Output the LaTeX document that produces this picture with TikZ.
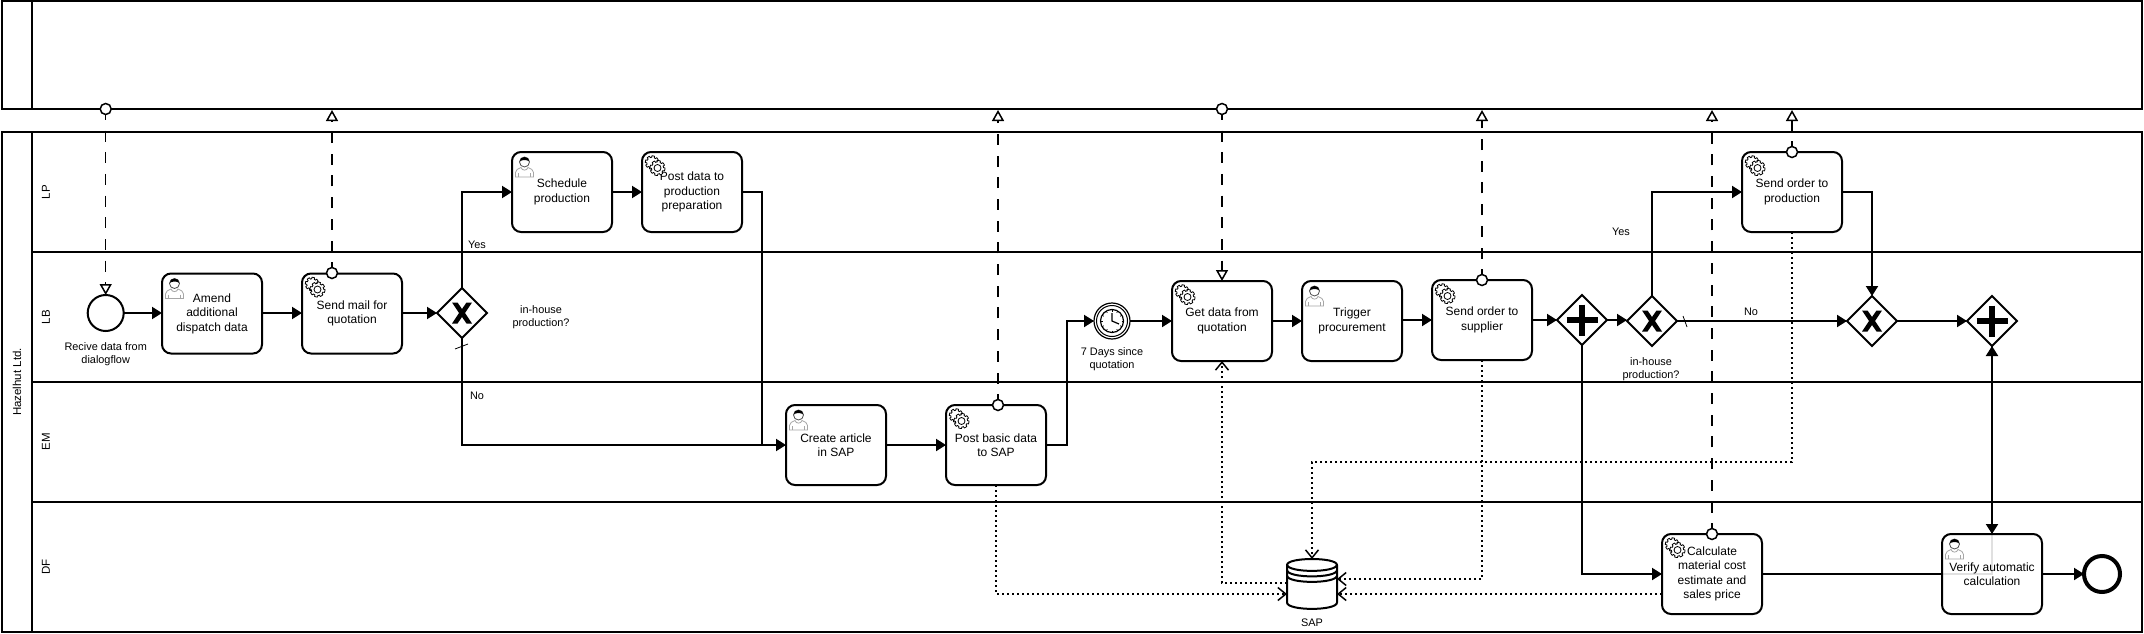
\documentclass[tikz,border=0pt]{standalone}
\usepackage{fontspec}
\setmainfont{Liberation Sans}
\usetikzlibrary{arrows.meta,shapes.geometric}

\tikzset{
	task/.style={draw,line width=2pt,rounded corners=9pt,fill=white,minimum width=100pt,minimum height=80pt,inner sep=1pt,outer sep=0pt,align=center,font=\fontsize{12}{14.5}\selectfont,execute at begin node={\rule{0pt}{11pt}}},
	gate/.style={draw,diamond,line width=2pt,fill=white,minimum width=50pt,minimum height=50pt,inner sep=0pt,outer sep=0pt},
	event/.style={draw,circle,line width=2pt,fill=white,minimum size=36pt,inner sep=0pt,outer sep=0pt},
	msgdot/.style={draw,circle,line width=1.5pt,fill=white,minimum size=11pt,inner sep=0pt,outer sep=0pt},
	label/.style={align=center,inner sep=0pt,font=\fontsize{10.9}{13}\selectfont},
	lanelabel/.style={rotate=90,inner sep=0pt,font=\fontsize{11.5}{13}\selectfont},
	lane/.style={line width=2pt},
	flow/.style={line width=2pt,-{Triangle[length=10pt,width=12pt]}},
	plainflow/.style={line width=2pt},
	msgflow/.style={line width=1.5pt,dash pattern=on 11pt off 10.7pt,dash phase=5.7pt,-{Triangle[length=11pt,width=12pt,fill=white,line width=1.5pt]}},
	dataflow/.style={line width=1.5pt,dash pattern=on 2pt off 3pt,-{Straight Barb[length=8pt,width=13pt,line width=1.5pt]}},
	%task markers, drawn from the top left corner of the task
	pics/usermark/.style={code={
		\draw[gray!70,line width=.8pt,fill=white] (3.5,25) -- (3.5,20.5) .. controls (3.5,17.5) and (6,17) .. (9,15.5) .. controls (10,19) and (15,19) .. (16,15.5) .. controls (19,17) and (21.5,17.5) .. (21.5,20.5) -- (21.5,25) -- cycle;
		\draw[gray!70,line width=.8pt] (6.5,21) -- (6.5,25) (18.5,21) -- (18.5,25);
		\draw[black!70,line width=.8pt,fill=white] (12.5,10) circle (5pt);
		\fill (7.7,9.5) .. controls (8,3.5) and (17,3.5) .. (17.3,9.5) .. controls (15,7.5) and (10,7.5) .. cycle;
	}},
	pics/servicemark/.style={code={
		\foreach \cx/\cy/\rr in {10/10.5/6.7,15.5/16/7.5}
			\draw[line width=.8pt,fill=white] plot[domain=0:360,samples=97] ({\cx+(\rr-1.5*(sin(8*\x)<0))*cos(\x)},{\cy+(\rr-1.5*(sin(8*\x)<0))*sin(\x)}) -- cycle;
		\draw[line width=.8pt] (15.5,16) circle (3.5pt);
	}},
	pics/xormark/.style={code={
		\fill (-10,-10.5) -- (-4.5,-10.5) -- (0,-4) -- (4.5,-10.5) -- (10,-10.5) -- (3,0) -- (10,10.5) -- (4.5,10.5) -- (0,4) -- (-4.5,10.5) -- (-10,10.5) -- (-3,0) -- cycle;
	}},
	pics/andmark/.style={code={
		\draw[line width=5.5pt] (-15.5,0) -- (15.5,0) (0,-15.5) -- (0,15.5);
	}},
}

\begin{document}
\begin{tikzpicture}[x=1pt,y=-1pt]
	\useasboundingbox (0,0) rectangle (2144,634);

	%pools and lanes
	\draw[lane] (2,1) rectangle (2142,109);
	\draw[lane] (32,1) -- (32,109);
	\draw[lane] (2,132) rectangle (2142,632);
	\draw[lane] (32,132) -- (32,632);
	\draw[lane] (32,252) -- (2142,252);
	\draw[lane] (32,382) -- (2142,382);
	\draw[lane] (32,502) -- (2142,502);

	\node[lanelabel] (pool) at (17,382) {Hazelhut Ltd.};
	\node[lanelabel] (lanelp) at (46,192) {LP};
	\node[lanelabel] (lanelb) at (46,317) {LB};
	\node[lanelabel] (laneem) at (46,442) {EM};
	\node[lanelabel] (lanedf) at (46,567) {DF};

	%events
	\node[event] (recive) at (105.7,313) {};
	\node[event,line width=1.2pt] (timer) at (1112,321) {};
	\node[event,line width=4pt,minimum size=36pt] (stop) at (2102,574) {};

	%timer marks
	\draw[line width=1pt] (timer) circle (15.5pt);
	\draw[line width=1.2pt] (timer) circle (11.5pt);
	\foreach \a in {0,30,...,330}
		\draw[line width=.7pt] (timer) ++(\a:9.5pt) -- ++(\a:2pt);
	\draw[line width=1.2pt] (1112,313) -- (timer.center) -- (1119,324);

	%tasks
	\node[task] (amend) at (212,313.5) {Amend\\additional\\dispatch data};
	\node[task] (mail) at (352,313.5) {Send mail for\\quotation};
	\node[task] (schedule) at (562,192) {Schedule\\production};
	\node[task] (postprep) at (692,192) {Post data to\\production\\preparation};
	\node[task] (create) at (836,445) {Create article\\in SAP};
	\node[task] (postbasic) at (996,445) {Post basic data\\to SAP};
	\node[task] (getdata) at (1222,321) {Get data from\\quotation};
	\node[task] (trigger) at (1352,321) {Trigger\\procurement};
	\node[task] (supplier) at (1482,320) {Send order to\\supplier};
	\node[task] (sendprod) at (1792,192) {Send order to\\production};
	\node[task] (calc) at (1712,574) {Calculate\\material cost\\estimate and\\sales price};

	%gateways
	\node[gate] (xorone) at (462,313) {};
	\node[gate] (andone) at (1582,320) {};
	\node[gate] (xortwo) at (1652,321) {};
	\node[gate] (xorthree) at (1872,321) {};
	\node[gate] (andtwo) at (1992,321) {};
	\pic at (xorone) {xormark};
	\pic at (xortwo) {xormark};
	\pic at (xorthree) {xormark};
	\pic at (andone) {andmark};
	\pic at (andtwo) {andmark};

	%sequence flows
	\coordinate (mergein) at (762,445);
	\coordinate (timerin) at (1067,321);
	\draw[flow] (recive.east) -- (amend.west |- recive);
	\draw[flow] (amend.east |- recive) -- (mail.west |- recive);
	\draw[flow] (mail.east |- recive) -- (xorone.west);
	\draw[flow] (xorone.north) |- (schedule.west);
	\draw[flow] (xorone.south) |- (create.west);
	\draw[flow] (schedule) -- (postprep);
	\draw[plainflow] (postprep.east) -| (mergein);
	\draw[flow] (create) -- (postbasic);
	\draw[flow] (postbasic.east) -| (timerin) -- (timer.west);
	\draw[flow] (timer) -- (getdata);
	\draw[flow] (getdata) -- (trigger);
	\draw[flow] (trigger.east |- supplier) -- (supplier);
	\draw[flow] (supplier) -- (andone);
	\draw[flow] (andone) -- (xortwo.west |- andone);
	\draw[flow] (andone.south) |- (calc.west);
	\draw[flow] (xortwo.north) |- (sendprod.west);
	\draw[flow] (sendprod.east) -| (xorthree.north);
	\draw[flow] (xortwo) -- (xorthree);
	\draw[flow] (xorthree) -- (andtwo);
	\draw[flow] (calc.east) -| (andtwo.south);

	%task on top of its flow
	\node[task,fill opacity=.88,text opacity=1] (verify) at (1992,574) {Verify automatic\\calculation};
	\draw[flow] (andtwo.south) -- (verify.north);
	\draw[flow] (verify) -- (stop);

	%crossbars on default flows
	\draw[line width=.8pt] (455,349) -- (468,344);
	\draw[line width=.8pt] (1683,316) -- (1687,327);

	%data store
	\node[minimum width=50pt,minimum height=50pt,inner sep=0pt,outer sep=0pt] (sap) at (1312,584) {};
	\draw[line width=2pt,fill=white] (1287,565) -- (1287,602.5) .. controls (1287,611) and (1337,611) .. (1337,602.5) -- (1337,565) .. controls (1337,557) and (1287,557) .. cycle;
	\draw[line width=2pt] (1287,564.5) .. controls (1287,573) and (1337,573) .. (1337,564.5);
	\draw[line width=2pt] (1287,570) .. controls (1287,578.5) and (1337,578.5) .. (1337,570);
	\draw[line width=2pt] (1287,575.5) .. controls (1287,584) and (1337,584) .. (1337,575.5);
	\node[label] (saplabel) at (1312,623) {SAP};

	%data flows
	\coordinate (sapleftlow) at (1287,594);
	\coordinate (saprightlow) at (1337,594);
	\coordinate (sapleftup) at (1287,583);
	\coordinate (saprightup) at (1337,579);
	\coordinate (saptop) at (1312,559);
	\coordinate (sapbend) at (1792,462);
	\draw[dataflow] (postbasic.south) |- (sapleftlow);
	\draw[dataflow] (sapleftup) -| (getdata.south);
	\draw[dataflow] (supplier.south) |- (saprightup);
	\draw[dataflow] (calc.west |- saprightlow) -- (saprightlow);
	\draw[dataflow] (sendprod.south) -- (sapbend) -| (saptop);

	%message flows
	\coordinate (pool_a) at (332,110);
	\coordinate (pool_b) at (998,110);
	\coordinate (pool_c) at (1482,110);
	\coordinate (pool_d) at (1712,110);
	\coordinate (pool_e) at (1792,110);
	\node[msgdot] (dotrecive) at (105.7,109) {};
	\node[msgdot] (dotmail) at (332,273) {};
	\node[msgdot] (dotbasic) at (998,405) {};
	\node[msgdot] (dotget) at (1222,109) {};
	\node[msgdot] (dotsupplier) at (1482,280) {};
	\node[msgdot] (dotcalc) at (1712,534) {};
	\node[msgdot] (dotprod) at (1792,152) {};
	\draw[msgflow] (dotrecive.south) -- (recive.north);
	\draw[msgflow] (dotmail.north) -- (pool_a);
	\draw[msgflow] (dotbasic.north) -- (pool_b);
	\draw[msgflow] (dotget.south) -- (getdata.north);
	\draw[msgflow] (dotsupplier.north) -- (pool_c);
	\draw[msgflow] (dotcalc.north) -- (pool_d);
	\draw[msgflow] (dotprod.north) -- (pool_e);

	%task markers
	\pic at (amend.north west) {usermark};
	\pic at (schedule.north west) {usermark};
	\pic at (create.north west) {usermark};
	\pic at (trigger.north west) {usermark};
	\pic at (verify.north west) {usermark};
	\pic at (mail.north west) {servicemark};
	\pic at (postprep.north west) {servicemark};
	\pic at (postbasic.north west) {servicemark};
	\pic at (getdata.north west) {servicemark};
	\pic at (supplier.north west) {servicemark};
	\pic at (sendprod.north west) {servicemark};
	\pic at (calc.north west) {servicemark};

	%labels
	\node[label] (recivelabel) at (105.7,354) {Recive data from\\dialogflow};
	\node[label] (timerlabel) at (1112,359.5) {7 Days since\\quotation};
	\node[label] (inhouseone) at (541,317.5) {in-house\\production?};
	\node[label] (inhousetwo) at (1651,369.5) {in-house\\production?};
	\node[label] (yesone) at (477,245) {Yes};
	\node[label] (noone) at (477,396) {No};
	\node[label] (yestwo) at (1621,232) {Yes};
	\node[label] (notwo) at (1751,312) {No};
\end{tikzpicture}
\end{document}
